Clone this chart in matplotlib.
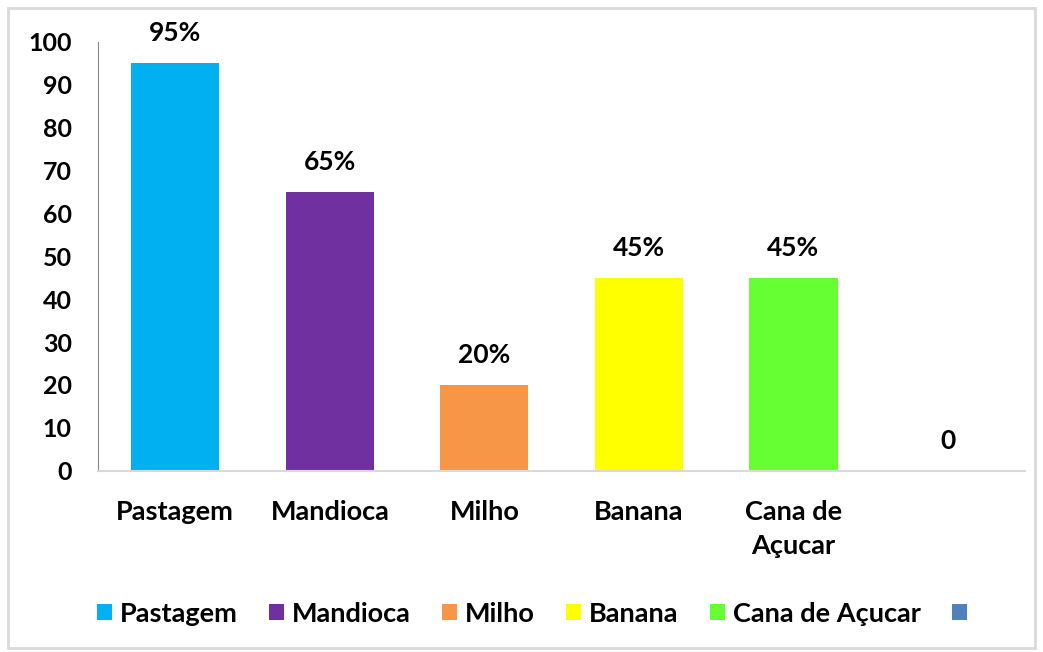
import matplotlib.pyplot as plt
from matplotlib.patches import Patch, Rectangle

plt.rcParams['font.family'] = ['Lato', 'DejaVu Sans']
plt.rcParams['font.weight'] = 'bold'

culturas = ["Pastagem", "Mandioca", "Milho", "Banana", "Cana de\nAçucar", ""]
legenda = ["Pastagem", "Mandioca", "Milho", "Banana", "Cana de Açucar", ""]
valores = [95, 65, 20, 45, 45, 0]
rotulos = ["95%", "65%", "20%", "45%", "45%", "0"]
cores = ["#00B0F0", "#7030A0", "#F79646", "#FFFF00", "#66FF33", "#4F81BD"]

fig = plt.figure(figsize=(10.43, 6.52), dpi=100)
ax = fig.add_axes([0.094, 0.278, 0.889, 0.658])

x = range(len(valores))
bars = ax.bar(x, valores, width=0.57, color=cores)

for b, v, r in zip(bars, valores, rotulos):
    ax.annotate(r, (b.get_x() + b.get_width() / 2, v), xytext=(0, 13),
                textcoords="offset points", ha="center", va="bottom",
                fontsize=19, fontweight="bold")

ax.set_xlim(-0.5, len(valores) - 0.5)
ax.set_ylim(0, 100)
ax.set_yticks(range(0, 101, 10))
ax.set_xticks(list(x))
ax.set_xticklabels(culturas, fontsize=19.5, fontweight="bold", linespacing=1.5)
ax.tick_params(axis="x", length=0, pad=21)
ax.tick_params(axis="y", length=0, pad=19, labelsize=18)
for lbl in ax.get_xticklabels():
    lbl.set_verticalalignment("top")

ax.spines["top"].set_visible(False)
ax.spines["right"].set_visible(False)
ax.spines["left"].set_color("#868686")
ax.spines["bottom"].set_color("#D9D9D9")
ax.spines["bottom"].set_linewidth(1.5)

handles = [Patch(facecolor=c, edgecolor="none") for c in cores]
fig.legend(handles, legenda, loc="center", bbox_to_anchor=(0.514, 0.059), ncol=6,
           frameon=False, handlelength=0.55, handleheight=0.55,
           handletextpad=0.3, columnspacing=1.15, prop={"weight": "bold", "size": 19.5})

# moldura do gráfico
fig.patches.append(Rectangle((0.008, 0.006), 0.984, 0.982, transform=fig.transFigure,
                             fill=False, edgecolor="#D9D9D9", linewidth=2))

fig.savefig("out.png", dpi=100)
